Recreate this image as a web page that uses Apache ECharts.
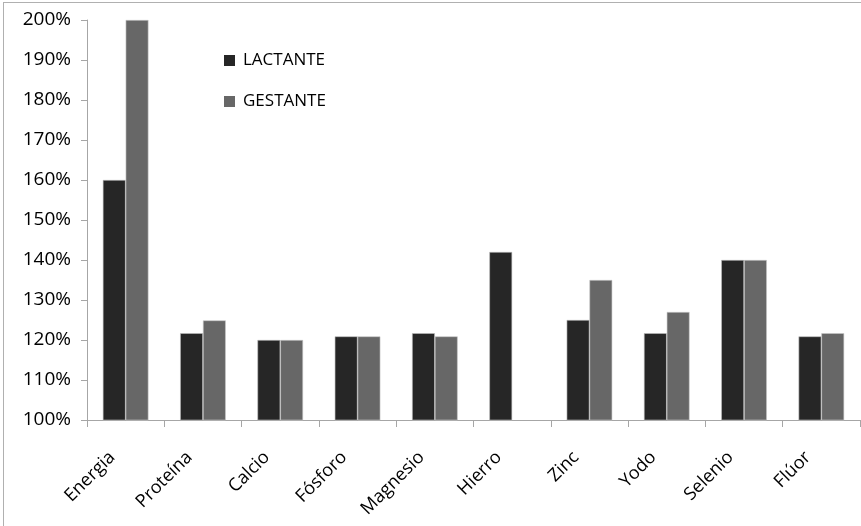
<!DOCTYPE html>
<html><head><meta charset="utf-8">
<style>
html,body{margin:0;padding:0;background:#fff;}
#frame{position:absolute;left:3px;top:2px;width:858px;height:524px;box-sizing:border-box;border-left:1px solid #b0b0b0;border-top:1px solid #b0b0b0;}
#c{position:absolute;left:0;top:0;width:861px;height:526px;}
</style>
<script src="https://cdn.jsdelivr.net/npm/echarts@6/dist/echarts.min.js"></script>
</head><body>
<div id="frame"></div>
<div id="c"></div>
<script>
var categories = ['Energia','Proteína','Calcio','Fósforo','Magnesio','Hierro','Zinc','Yodo','Selenio','Flúor'];
var lactante = [160, 121.7, 120, 120.9, 121.7, 142, 125, 121.7, 140, 120.9];
var gestante = [200, 124.9, 120, 120.9, 120.9, null, 135, 127, 140, 121.7];
var yTicks = {min: 100, max: 200, interval: 10};

var chart = echarts.init(document.getElementById('c'));
chart.setOption({
  animation: false,
  backgroundColor: 'transparent',
  grid: {left: 87, right: 1, top: 20, bottom: 106, containLabel: false},
  legend: {
    orient: 'vertical', left: 219, top: 47, itemWidth: 11, itemHeight: 11, itemGap: 24,
    itemStyle: {borderWidth: 0},
    textStyle: {fontFamily: 'Open Sans', fontSize: 17, color: '#000', padding: [0, 0, 0, 3]},
    icon: 'rect',
    data: ['LACTANTE','GESTANTE']
  },
  xAxis: {
    type: 'category', data: categories,
    axisLine: {lineStyle: {color: '#a6a6a6', width: 1}},
    axisTick: {show: true, length: 7, lineStyle: {color: '#a6a6a6'}},
    axisLabel: {rotate: 45, interval: 0, margin: 38, align: 'right', verticalAlign: 'bottom',
      padding: [0, 7, 0, 0], lineHeight: 24,
      fontFamily: 'Open Sans', fontSize: 18, color: '#000'}
  },
  yAxis: {
    type: 'value', min: yTicks.min, max: yTicks.max, interval: yTicks.interval,
    splitLine: {show: false},
    axisLine: {show: true, lineStyle: {color: '#a6a6a6', width: 1}},
    axisTick: {show: true, length: 6, lineStyle: {color: '#a6a6a6'}},
    axisLabel: {formatter: '{value}%', margin: 16, fontFamily: 'Open Sans', fontSize: 19, color: '#000'}
  },
  series: [
    {name: 'LACTANTE', type: 'bar', data: lactante, barGap: '0%', barCategoryGap: '41%',
     itemStyle: {color: '#262626', borderColor: '#bdbdbd', borderWidth: 0.6}},
    {name: 'GESTANTE', type: 'bar', data: gestante, barGap: '0%', barCategoryGap: '41%',
     itemStyle: {color: '#676767', borderColor: '#c8c8c8', borderWidth: 0.6}}
  ]
});
</script>
</body></html>
